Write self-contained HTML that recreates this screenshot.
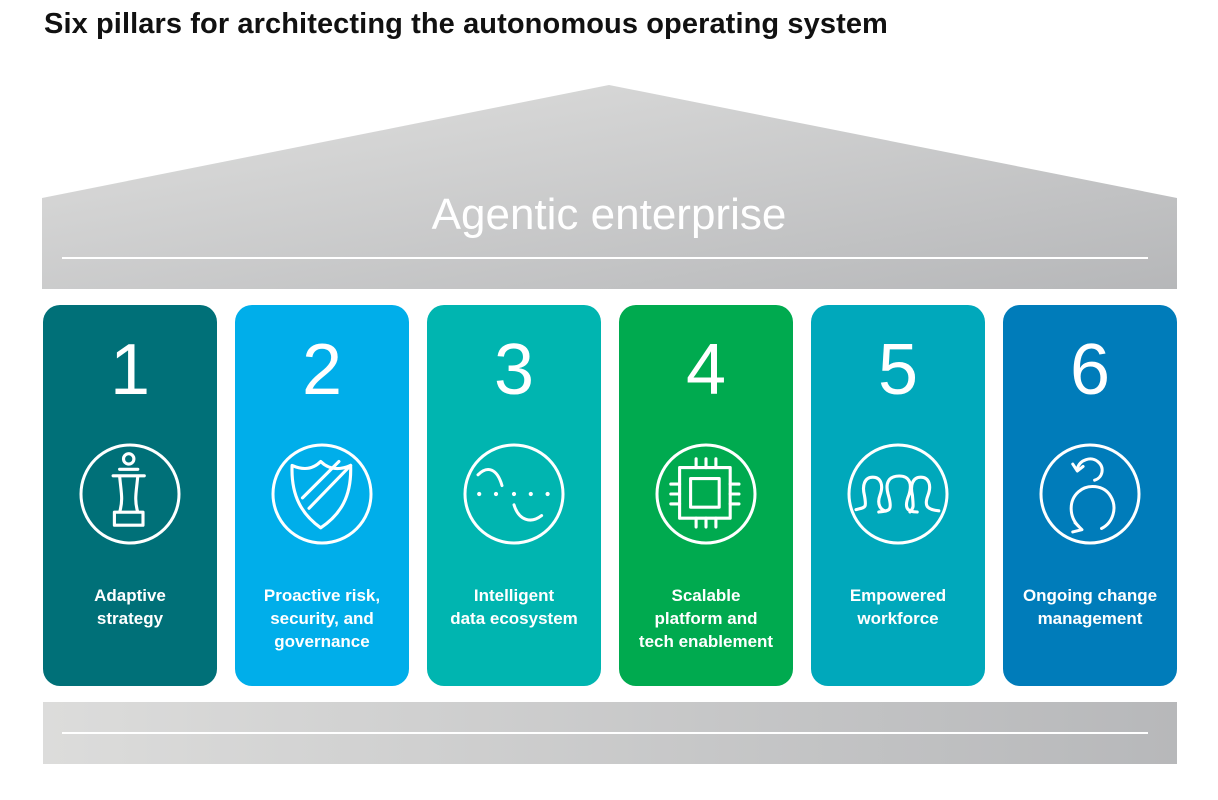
<!DOCTYPE html>
<html><head><style>
body{margin:0;width:1218px;height:800px;background:#fff;position:relative;font-family:"Liberation Sans",sans-serif;overflow:hidden}
.t{position:absolute;left:44px;top:8px;font-size:29px;font-weight:bold;color:#111;letter-spacing:0.1px}
.p{position:absolute;top:305px;width:174px;height:381px;border-radius:17px;color:#fff;text-align:center}
.n{position:absolute;top:23px;width:100%;font-size:72px;font-weight:300;line-height:84px}
.l{position:absolute;top:279px;width:100%;font-size:17px;font-weight:bold;line-height:23px}
svg.i{position:absolute;left:36px;top:138px}
</style></head><body>
<div class="t">Six pillars for architecting the autonomous operating system</div>
<svg width="1218" height="800" style="position:absolute;left:0;top:0">
<defs><linearGradient id="g" x1="0" y1="0" x2="1" y2="1"><stop offset="0" stop-color="#e0e0df"/><stop offset="1" stop-color="#b6b7b9"/></linearGradient>
<linearGradient id="g2" x1="0" y1="0" x2="1" y2="0"><stop offset="0" stop-color="#dcdcdb"/><stop offset="1" stop-color="#b7b8ba"/></linearGradient></defs>
<polygon points="42,198 609,85 1177,198 1177,289 42,289" fill="url(#g)"/>
<line x1="62" y1="258" x2="1148" y2="258" stroke="#fff" stroke-width="2"/>
<text x="609" y="229" text-anchor="middle" fill="#fff" font-size="44" font-family="Liberation Sans,sans-serif">Agentic enterprise</text>
<rect x="43" y="702" width="1134" height="62" fill="url(#g2)"/>
<line x1="62" y1="733" x2="1148" y2="733" stroke="#fff" stroke-width="2"/>
</svg>

<div class="p" style="left:43px;background:#007078"><div class="n">1</div>
<svg class="i" width="102" height="102" viewBox="0 0 102 102" fill="none" stroke="#fff" stroke-width="3" stroke-linecap="round" stroke-linejoin="round"><circle cx="51" cy="51" r="49"/><g transform="translate(51 51) scale(1.3) translate(-51 -49)" stroke-width="2.4"><circle cx="50" cy="22" r="4"/><path d="M43 30h14M38 35h24M43 35c1 12 3 18 0 28h14c-3-10-1-16 0-28M39 63h22v10H39z"/></g></svg>
<div class="l">Adaptive<br>strategy</div></div>

<div class="p" style="left:235px;background:#00aeea"><div class="n">2</div>
<svg class="i" width="102" height="102" viewBox="0 0 102 102" fill="none" stroke="#fff" stroke-width="3" stroke-linecap="round" stroke-linejoin="round"><circle cx="51" cy="51" r="49"/><g transform="translate(51 51) scale(1.3) translate(-48 -47)" stroke-width="2.4"><path d="M25 25c9 4 16 3 22-3 6 6 14 7 23 3 1 24-8 38-23 48C33 63 24 49 25 25z"/><path d="M33 50l28-28M38 58l32-33"/></g></svg>
<div class="l">Proactive risk,<br>security, and<br>governance</div></div>

<div class="p" style="left:427px;background:#00b5b0"><div class="n">3</div>
<svg class="i" width="102" height="102" viewBox="0 0 102 102" fill="none" stroke="#fff" stroke-width="3" stroke-linecap="round" stroke-linejoin="round"><circle cx="51" cy="51" r="49"/><g transform="translate(51 51) scale(1.2) translate(-50 -51)" stroke-width="2.5"><path d="M20 35c8-8 16-5 20 9M50 60c4 13 14 16 23 9"/><path d="M21 51h0M35 51h0M50 51h0M64 51h0M78 51h0" stroke-width="3.5"/></g></svg>
<div class="l">Intelligent<br>data ecosystem</div></div>

<div class="p" style="left:619px;background:#00aa4f"><div class="n">4</div>
<svg class="i" width="102" height="102" viewBox="0 0 102 102" fill="none" stroke="#fff" stroke-width="3" stroke-linecap="round" stroke-linejoin="round"><circle cx="51" cy="51" r="49"/><g transform="translate(51 51) scale(1.1) translate(-51 -51)" stroke-width="2.8"><rect x="27" y="27" width="46" height="46"/><rect x="37" y="37" width="26" height="26"/><path d="M42 27v-8M51 27v-8M60 27v-8M42 73v8M51 73v8M60 73v8M27 42h-8M27 51h-8M27 60h-8M73 42h8M73 51h8M73 60h8"/></g></svg>
<div class="l">Scalable<br>platform and<br>tech enablement</div></div>

<div class="p" style="left:811px;background:#00a8bb"><div class="n">5</div>
<svg class="i" width="102" height="102" viewBox="0 0 102 102" fill="none" stroke="#fff" stroke-width="3" stroke-linecap="round" stroke-linejoin="round"><circle cx="51" cy="51" r="49"/><g transform="translate(51 51) scale(1.2) translate(-50 -60)" stroke-width="2.6"><path d="M15 73c8-2 9-1 7-12-2-8 0-15 7-15s9 7 6 15c-3 8 1 12 4 13M34 75c8-1 12 0 8-14-3-10 0-16 9-16s11 7 8 16c-4 10-2 14 7 14M60 75c3-4 3-3 2-14-2-8 0-15 7-15s9 7 6 15c-3 8-2 12 9 13"/></g></svg>
<div class="l">Empowered<br>workforce</div></div>

<div class="p" style="left:1003px;background:#007cba"><div class="n">6</div>
<svg class="i" width="102" height="102" viewBox="0 0 102 102" fill="none" stroke="#fff" stroke-width="3" stroke-linecap="round" stroke-linejoin="round"><circle cx="51" cy="51" r="49"/><g transform="translate(51 51) scale(1.15) translate(-53 -53)" stroke-width="2.6"><path d="M42 31c2-8 12-11 18-6 6 5 4 14-3 16"/><path d="M38 27l4 6 5-4"/><path d="M63 83c10-5 14-18 8-28-6-10-20-11-28-4-9 8-8 22 0 30"/><path d="M40 78l6 6-8 2"/></g></svg>
<div class="l">Ongoing change<br>management</div></div>
</body></html>
